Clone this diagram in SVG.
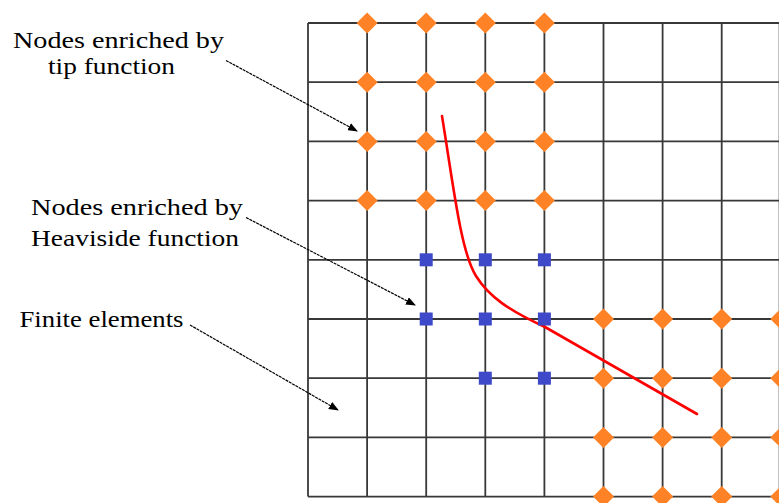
<svg xmlns="http://www.w3.org/2000/svg" xmlns:xlink="http://www.w3.org/1999/xlink" width="779" height="503" viewBox="0 0 779 503">
<style>
.grid{stroke:#383838;stroke-width:1.8;fill:none}
.lbl{font-family:"Liberation Serif","Times New Roman",serif;font-size:24px;fill:#000}
.arr{stroke:#000;stroke-width:1.2;stroke-dasharray:3 0.8;fill:none}
.tip{fill:#FF8326}
.hv{fill:#3D49C8}
.crack{stroke:#FF0000;stroke-width:2.6;fill:none;stroke-linecap:round}
</style>
<defs>
<path id="dia" class="tip" d="M0,-10.5 L10.5,0 L0,10.5 L-10.5,0 Z"/>
<rect id="sq" class="hv" x="-6.5" y="-6.5" width="13" height="13"/>
<marker id="ah" markerWidth="10" markerHeight="8" refX="9" refY="4" orient="auto" markerUnits="userSpaceOnUse">
<path d="M0,0 L10,4 L0,8 Z" fill="#000"/>
</marker>
</defs>
<rect width="779" height="503" fill="#fff"/>
<g id="grid" class="grid">
<line x1="308" y1="23" x2="308" y2="496.6"/>
<line x1="367.1" y1="23" x2="367.1" y2="496.6"/>
<line x1="426.2" y1="23" x2="426.2" y2="496.6"/>
<line x1="485.3" y1="23" x2="485.3" y2="496.6"/>
<line x1="544.4" y1="23" x2="544.4" y2="496.6"/>
<line x1="603.5" y1="23" x2="603.5" y2="496.6"/>
<line x1="662.6" y1="23" x2="662.6" y2="496.6"/>
<line x1="721.7" y1="23" x2="721.7" y2="496.6"/>
<line x1="779" y1="23" x2="779" y2="496.6" stroke="#bbb"/>
<line x1="308" y1="23" x2="779" y2="23"/>
<line x1="308" y1="82.2" x2="779" y2="82.2"/>
<line x1="308" y1="141.4" x2="779" y2="141.4"/>
<line x1="308" y1="200.6" x2="779" y2="200.6"/>
<line x1="308" y1="259.8" x2="779" y2="259.8"/>
<line x1="308" y1="319" x2="779" y2="319"/>
<line x1="308" y1="378.2" x2="779" y2="378.2"/>
<line x1="308" y1="437.4" x2="779" y2="437.4"/>
<line x1="308" y1="496.6" x2="779" y2="496.6"/>
</g>
<g id="crack">
<path class="crack" d="M442,116 C454,190 461,252 476,276 C489,297 510,311 545,327 L697,414"/>
</g>
<g id="tip-nodes">
<use xlink:href="#dia" x="367.1" y="23"/><use xlink:href="#dia" x="426.2" y="23"/><use xlink:href="#dia" x="485.3" y="23"/><use xlink:href="#dia" x="544.4" y="23"/>
<use xlink:href="#dia" x="367.1" y="82.2"/><use xlink:href="#dia" x="426.2" y="82.2"/><use xlink:href="#dia" x="485.3" y="82.2"/><use xlink:href="#dia" x="544.4" y="82.2"/>
<use xlink:href="#dia" x="367.1" y="141.4"/><use xlink:href="#dia" x="426.2" y="141.4"/><use xlink:href="#dia" x="485.3" y="141.4"/><use xlink:href="#dia" x="544.4" y="141.4"/>
<use xlink:href="#dia" x="367.1" y="200.6"/><use xlink:href="#dia" x="426.2" y="200.6"/><use xlink:href="#dia" x="485.3" y="200.6"/><use xlink:href="#dia" x="544.4" y="200.6"/>
<use xlink:href="#dia" x="603.5" y="319"/><use xlink:href="#dia" x="662.6" y="319"/><use xlink:href="#dia" x="721.7" y="319"/><use xlink:href="#dia" x="780.8" y="319"/>
<use xlink:href="#dia" x="603.5" y="378.2"/><use xlink:href="#dia" x="662.6" y="378.2"/><use xlink:href="#dia" x="721.7" y="378.2"/><use xlink:href="#dia" x="780.8" y="378.2"/>
<use xlink:href="#dia" x="603.5" y="437.4"/><use xlink:href="#dia" x="662.6" y="437.4"/><use xlink:href="#dia" x="721.7" y="437.4"/><use xlink:href="#dia" x="780.8" y="437.4"/>
<use xlink:href="#dia" x="603.5" y="496.6"/><use xlink:href="#dia" x="662.6" y="496.6"/><use xlink:href="#dia" x="721.7" y="496.6"/><use xlink:href="#dia" x="780.8" y="496.6"/>
</g>
<g id="heaviside-nodes">
<use xlink:href="#sq" x="426.2" y="259.8"/><use xlink:href="#sq" x="485.3" y="259.8"/><use xlink:href="#sq" x="544.4" y="259.8"/>
<use xlink:href="#sq" x="426.2" y="319"/><use xlink:href="#sq" x="485.3" y="319"/><use xlink:href="#sq" x="544.4" y="319"/>
<use xlink:href="#sq" x="485.3" y="378.2"/><use xlink:href="#sq" x="544.4" y="378.2"/>
</g>
<g id="connectors">
<line class="arr" x1="226" y1="60.5" x2="357" y2="131" marker-end="url(#ah)"/>
<line class="arr" x1="246" y1="217.5" x2="415" y2="305" marker-end="url(#ah)"/>
<line class="arr" x1="190" y1="325" x2="338" y2="410" marker-end="url(#ah)"/>
</g>
<g id="label-tip">
<text class="lbl" x="13" y="47.5" textLength="211" lengthAdjust="spacingAndGlyphs">Nodes enriched by</text>
<text class="lbl" x="48" y="73.5" textLength="127" lengthAdjust="spacingAndGlyphs">tip function</text>
</g>
<g id="label-heaviside">
<text class="lbl" x="31" y="215" textLength="212" lengthAdjust="spacingAndGlyphs">Nodes enriched by</text>
<text class="lbl" x="31" y="246" textLength="208" lengthAdjust="spacingAndGlyphs">Heaviside function</text>
</g>
<g id="label-elements">
<text class="lbl" x="19.5" y="327.3" textLength="164" lengthAdjust="spacingAndGlyphs">Finite elements</text>
</g>
</svg>
